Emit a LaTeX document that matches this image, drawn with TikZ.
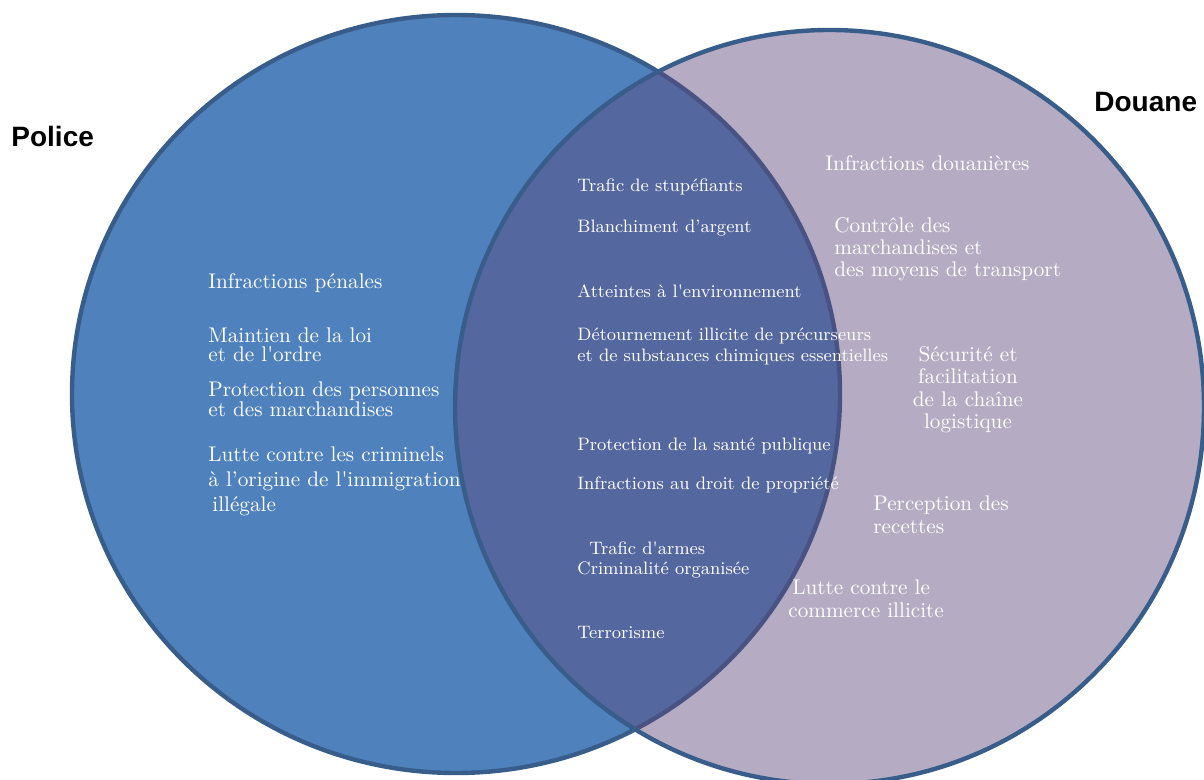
\documentclass[tikz,border=0pt]{standalone}
\usepackage{fontspec}
\newfontfamily\headfont{Liberation Sans}
\definecolor{policeblue}{RGB}{79,129,189}
\definecolor{rimblue}{RGB}{56,93,138}
\definecolor{douanemauve}{RGB}{92,72,123}
\newcommand{\sq}{\textquotesingle}
\begin{document}
\begin{tikzpicture}[x=0.5pt,y=-0.5pt,
  zone/.style={draw=rimblue,line width=2.2pt},
  task/.style={text=white,inner sep=0pt,anchor=base west,align=left,font=\fontsize{10.6}{11.2}\selectfont},
  side/.style={task,font=\fontsize{10.6}{11.1}\selectfont},
  shared/.style={task,font=\fontsize{9}{10.8}\selectfont},
  head/.style={inner sep=0pt,anchor=base west,font=\headfont\bfseries\fontsize{14}{16}\selectfont}]
\useasboundingbox (0,0) rectangle (1204,780);
% the two fields
\draw[zone,fill=policeblue] (456,394) ellipse [x radius=192pt, y radius=189.5pt];
\draw[zone,fill=douanemauve,fill opacity=0.455] (829.5,407) ellipse [x radius=187.25pt, y radius=188.5pt];
\node[head] (police) at (11,147) {Police};
\node[head] (douane) at (1094,112) {Douane};
% police only (multi-line nodes sit on their last baseline)
\node[task] (penal)   at (208,289) {Infractions pénales};
\node[task] (order)   at (208,362) {Maintien de la loi\\[-1.7pt]et de l\sq ordre};
\node[task] (protect) at (208,416) {Protection des personnes\\[-1.7pt]et des marchandises};
\node[task] (migr)    at (208,511) {Lutte contre les criminels\\[1.3pt]à l’origine de l\sq immigration\\[1.3pt]\hspace*{2pt}illégale};
% shared tasks
\node[shared] (drugs)  at (577,192) {Trafic de stupéfiants};
\node[shared] (laund)  at (577,233) {Blanchiment d’argent};
\node[shared] (envir)  at (577,298) {Atteintes à l\sq environnement};
\node[shared] (precur) at (577,362) {Détournement illicite de précurseurs\\et de substances chimiques essentielles};
\node[shared] (health) at (577,451) {Protection de la santé publique};
\node[shared] (ipr)    at (577,489) {Infractions au droit de propriété};
\node[shared] (arms)   at (577,574) {\hspace*{6pt}Trafic d\sq armes\\[-1pt]Criminalité organisée};
\node[shared] (terror) at (577,638) {Terrorisme};
% customs only
\node[side] (customs) at (825,171) {Infractions douanières};
\node[side] (control) at (834,277) {Contrôle des\\marchandises et\\des moyens de transport};
\node[side,anchor=base,align=center,font=\fontsize{10.6}{11.25}\selectfont] (supply) at (968,429) {Sécurité et\\facilitation\\de la chaîne\\logistique};
\node[side] (revenue) at (873,533) {Perception des\\recettes};
\node[side] (illicit) at (788,617) {\hspace*{2pt}Lutte contre le\\commerce illicite};
\end{tikzpicture}
\end{document}
